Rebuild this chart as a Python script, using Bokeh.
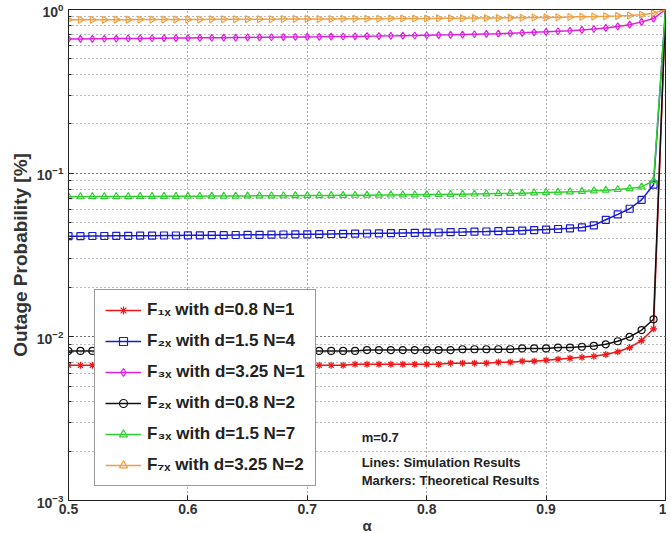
import numpy as np
from bokeh.plotting import figure
from bokeh.models import Legend, LegendItem, Label, CustomJSTickFormatter, FixedTicker
from bokeh.embed import file_html
from bokeh.resources import INLINE

alpha = [0.50, 0.51, 0.52, 0.53, 0.54, 0.55, 0.56, 0.57, 0.58, 0.59,
         0.60, 0.61, 0.62, 0.63, 0.64, 0.65, 0.66, 0.67, 0.68, 0.69,
         0.70, 0.71, 0.72, 0.73, 0.74, 0.75, 0.76, 0.77, 0.78, 0.79,
         0.80, 0.81, 0.82, 0.83, 0.84, 0.85, 0.86, 0.87, 0.88, 0.89,
         0.90, 0.91, 0.92, 0.93, 0.94, 0.95, 0.96, 0.97, 0.98, 0.99]
alpha_end = 1.0
value_end = 1.0

red_d08_n1 = [0.0067, 0.0067, 0.0067, 0.0067, 0.0067, 0.0067, 0.0067, 0.0067, 0.0067, 0.0067,
              0.0067, 0.0067, 0.0067, 0.0067, 0.0067, 0.0067, 0.0067, 0.0067, 0.0067, 0.0067,
              0.0067, 0.0067, 0.0067, 0.0067, 0.0068, 0.0068, 0.0068, 0.0068, 0.0068, 0.0068,
              0.0068, 0.0068, 0.0069, 0.0069, 0.0069, 0.0069, 0.0070, 0.0070, 0.0071, 0.0071,
              0.0072, 0.0073, 0.0074, 0.0075, 0.0076, 0.0078, 0.0081, 0.0086, 0.0095, 0.0112]
blue_d15_n4 = [0.0412, 0.0412, 0.0413, 0.0413, 0.0414, 0.0414, 0.0415, 0.0415, 0.0416, 0.0416,
               0.0417, 0.0417, 0.0418, 0.0418, 0.0419, 0.0420, 0.0420, 0.0421, 0.0422, 0.0423,
               0.0423, 0.0424, 0.0425, 0.0426, 0.0427, 0.0428, 0.0429, 0.0430, 0.0431, 0.0432,
               0.0433, 0.0434, 0.0436, 0.0437, 0.0439, 0.0440, 0.0442, 0.0444, 0.0446, 0.0449,
               0.0452, 0.0456, 0.0460, 0.0466, 0.0480, 0.0519, 0.0560, 0.0606, 0.0687, 0.0850]
magenta_d325_n1 = [0.660, 0.661, 0.662, 0.663, 0.664, 0.665, 0.666, 0.667, 0.668, 0.669,
                   0.670, 0.671, 0.672, 0.673, 0.674, 0.675, 0.676, 0.677, 0.678, 0.679,
                   0.680, 0.681, 0.683, 0.684, 0.685, 0.687, 0.688, 0.690, 0.692, 0.694,
                   0.696, 0.698, 0.700, 0.703, 0.706, 0.709, 0.712, 0.716, 0.720, 0.725,
                   0.730, 0.736, 0.742, 0.750, 0.760, 0.772, 0.788, 0.808, 0.840, 0.880]
black_d08_n2 = [0.0082, 0.0082, 0.0082, 0.0082, 0.0082, 0.0082, 0.0082, 0.0082, 0.0082, 0.0082,
                0.0082, 0.0082, 0.0082, 0.0082, 0.0082, 0.0082, 0.0082, 0.0082, 0.0082, 0.0082,
                0.0082, 0.0082, 0.0082, 0.0082, 0.0082, 0.0083, 0.0083, 0.0083, 0.0083, 0.0083,
                0.0083, 0.0083, 0.0083, 0.0084, 0.0084, 0.0084, 0.0084, 0.0084, 0.0085, 0.0085,
                0.0085, 0.0086, 0.0086, 0.0087, 0.0088, 0.0090, 0.0094, 0.0100, 0.0110, 0.0128]
green_d15_n7 = [0.0718, 0.0718, 0.0719, 0.0719, 0.0720, 0.0720, 0.0721, 0.0721, 0.0722, 0.0722,
                0.0723, 0.0723, 0.0724, 0.0725, 0.0725, 0.0726, 0.0727, 0.0727, 0.0728, 0.0729,
                0.0730, 0.0730, 0.0731, 0.0732, 0.0733, 0.0734, 0.0735, 0.0736, 0.0737, 0.0738,
                0.0740, 0.0741, 0.0743, 0.0744, 0.0746, 0.0748, 0.0750, 0.0752, 0.0755, 0.0758,
                0.0761, 0.0765, 0.0769, 0.0774, 0.0780, 0.0787, 0.0795, 0.0805, 0.0824, 0.0900]
orange_d325_n2 = [0.865, 0.865, 0.866, 0.866, 0.867, 0.867, 0.868, 0.868, 0.869, 0.869,
                  0.870, 0.870, 0.871, 0.871, 0.872, 0.872, 0.873, 0.873, 0.874, 0.875,
                  0.875, 0.876, 0.876, 0.877, 0.878, 0.878, 0.879, 0.880, 0.880, 0.881,
                  0.882, 0.883, 0.884, 0.885, 0.886, 0.887, 0.888, 0.889, 0.891, 0.893,
                  0.895, 0.897, 0.899, 0.902, 0.905, 0.909, 0.914, 0.920, 0.930, 0.950]

series = [
    ("F₁ₓ with d=0.8 N=1", red_d08_n1, "#f01818", "asterisk", 0.0),
    ("F₂ₓ with d=1.5 N=4", blue_d15_n4, "#1a1ad0", "square", 0.0),
    ("F₃ₓ with d=3.25 N=1", magenta_d325_n1, "#e020e0", "diamond", 0.0),
    ("F₂ₓ with d=0.8 N=2", black_d08_n2, "#111111", "circle", 0.0),
    ("F₃ₓ with d=1.5 N=7", green_d15_n7, "#30d030", "triangle", 0.0),
    ("F₇ₓ with d=3.25 N=2", orange_d325_n2, "#f0a040", "triangle", -np.pi / 2),
]

FONT = "Liberation Sans"

p = figure(width=666, height=536, x_range=(0.5, 1.0), y_range=(1e-3, 1.0),
           y_axis_type="log", output_backend="svg", toolbar_location=None,
           min_border_left=68, min_border_right=1, min_border_top=9, min_border_bottom=28)
p.background_fill_color = "white"
p.border_fill_color = "white"
p.outline_line_color = "#222222"
p.outline_line_width = 1

items = []
for label, vals, color, marker, ang in series:
    xs = alpha + [alpha_end]
    ys = vals + [value_end]
    lr = p.line(xs, ys, line_color=color, line_width=1.5)
    sr = p.scatter(alpha, vals, marker=marker, size=7, angle=ang,
                   line_color=color, fill_color=None, line_width=1.2)
    items.append(LegendItem(label=label, renderers=[lr, sr]))

legend = Legend(items=items, location=(26, 14))
legend.label_text_font = FONT
legend.label_text_font_style = "bold"
legend.label_text_font_size = "17px"
legend.label_text_color = "#222222"
legend.glyph_width = 36
legend.glyph_height = 20
legend.label_height = 20
legend.label_standoff = 6
legend.spacing = 11
legend.padding = 10
legend.margin = 0
legend.border_line_color = "#333333"
legend.border_line_width = 1
legend.background_fill_color = "white"
legend.background_fill_alpha = 1.0
p.add_layout(legend, "center")

for ax in [p.xaxis[0], p.yaxis[0]]:
    ax.axis_line_color = "#222222"
    ax.major_tick_line_color = "#222222"
    ax.minor_tick_line_color = "#222222"
    ax.major_tick_in = 5
    ax.major_tick_out = 0
    ax.minor_tick_in = 3
    ax.minor_tick_out = 0
    ax.major_label_text_font = FONT
    ax.major_label_text_font_style = "bold"
    ax.major_label_text_font_size = "14px"
    ax.major_label_text_color = "#333333"
    ax.axis_label_text_font = FONT
    ax.axis_label_text_font_style = "bold"
    ax.axis_label_text_color = "#333333"

p.xaxis.ticker = FixedTicker(ticks=[0.5, 0.6, 0.7, 0.8, 0.9, 1.0])
p.xaxis.formatter = CustomJSTickFormatter(code="return tick.toFixed(1).replace(/\\.0$/, '');")
p.xaxis.minor_tick_line_color = None
p.xaxis.major_label_standoff = 3
p.xaxis.axis_label = "α"
p.xaxis.axis_label_text_font_size = "15px"
p.xaxis.axis_label_standoff = 0

p.yaxis.axis_label = "Outage Probability [%]"
p.yaxis.axis_label_text_font_size = "19px"
p.yaxis.major_label_standoff = 5
p.yaxis.axis_label_standoff = 3

p.xgrid.grid_line_color = "#555555"
p.xgrid.grid_line_dash = "1 3"
p.xgrid.grid_line_width = 1
p.ygrid.grid_line_color = "#555555"
p.ygrid.grid_line_dash = "1 3"
p.ygrid.minor_grid_line_color = "#777777"
p.ygrid.minor_grid_line_dash = "1 3"

for txt, yv in [("m=0.7", 0.00243), ("Lines: Simulation Results", 0.00171),
                ("Markers: Theoretical Results", 0.001325)]:
    p.add_layout(Label(x=0.7455, y=yv, text=txt, text_font=FONT, text_font_style="bold",
                       text_font_size="13px", text_color="#222222", text_baseline="middle"))

open("out.html", "w").write(file_html(p, INLINE))
